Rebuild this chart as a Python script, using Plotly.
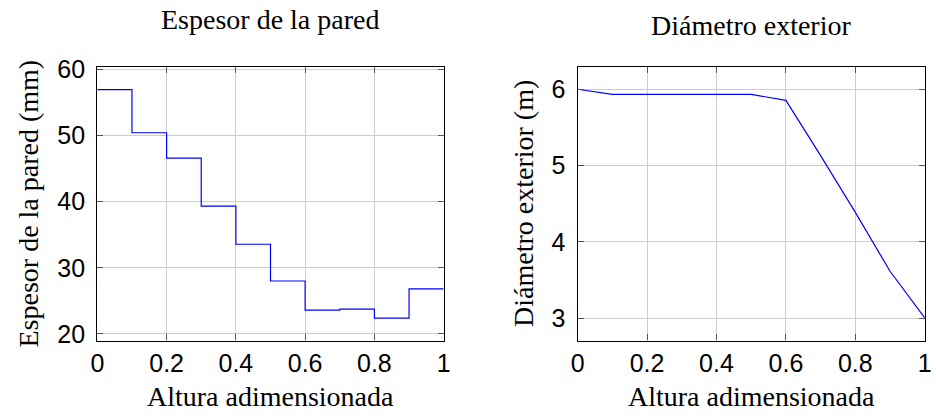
import plotly.graph_objects as go

# Altura adimensionada (0 = base, 1 = cima)
altura = [0.0, 0.1, 0.2, 0.3, 0.4, 0.5, 0.6, 0.7, 0.8, 0.9, 1.0]

# Espesor de la pared por tramo (mm); el último valor cierra el escalón en x = 1
espesor_mm = [56.9, 50.4, 46.55, 39.3, 33.55, 28.0, 23.6, 23.75, 22.4, 26.8, 26.8]

# Diámetro exterior (m)
diametro_m = [6.0, 5.933, 5.933, 5.933, 5.933, 5.933, 5.854, 5.13, 4.385, 3.613, 3.0]

x_ticks = [0, 0.2, 0.4, 0.6, 0.8, 1.0]
x_ticktext = ["0", "0.2", "0.4", "0.6", "0.8", "1"]
y1_ticks = [20, 30, 40, 50, 60]
y2_ticks = [3, 4, 5, 6]

W, H = 936, 416
SERIF = "Liberation Serif"
SANS = "Liberation Sans"
LINE = "rgb(0,0,255)"
GRID = "#cdcdcd"


def px_x(v):
    return v / W


def px_y(v):
    return 1 - v / H


fig = go.Figure()

fig.add_trace(go.Scatter(
    x=altura, y=espesor_mm, mode="lines", line=dict(color=LINE, width=1.2, shape="hv"),
    xaxis="x", yaxis="y", showlegend=False, hoverinfo="x+y",
))
fig.add_trace(go.Scatter(
    x=altura, y=diametro_m, mode="lines", line=dict(color=LINE, width=1.2),
    xaxis="x2", yaxis="y2", showlegend=False, hoverinfo="x+y",
))

common = dict(
    showline=True, linecolor="black", linewidth=1.3, mirror="ticks",
    ticks="inside", ticklen=6, tickcolor="#555555", tickwidth=1,
    showgrid=True, gridcolor=GRID, gridwidth=1, zeroline=False,
    tickfont=dict(family=SANS, size=25, color="black"),
)

dom_y = [px_y(344.3), px_y(57.3)]

fig.update_layout(
    width=W, height=H, autosize=False,
    margin=dict(l=0, r=0, t=0, b=0),
    paper_bgcolor="white", plot_bgcolor="white",
    xaxis=dict(domain=[px_x(91.7), px_x(443.3)], range=[0, 1], tickvals=x_ticks,
               ticktext=x_ticktext, anchor="y", ticklabelstandoff=0, **common),
    yaxis=dict(domain=dom_y, range=[19.0, 60.38], tickvals=y1_ticks, anchor="x",
               ticklabelstandoff=6, **common),
    xaxis2=dict(domain=[px_x(579.3), px_x(931.7)], range=[0, 1], tickvals=x_ticks,
                ticktext=x_ticktext, anchor="y2", ticklabelstandoff=0, **common),
    yaxis2=dict(domain=dom_y, range=[2.704, 6.296], tickvals=y2_ticks, anchor="x2",
                ticklabelstandoff=6, **common),
)

label_font = dict(family=SERIF, size=28, color="black")


def note(text, x, y, angle=0):
    fig.add_annotation(
        text=text, x=px_x(x), y=px_y(y), xref="paper", yref="paper",
        xanchor="center", yanchor="middle", showarrow=False,
        textangle=angle, font=label_font,
    )


note("Espesor de la pared", 267, 8)
note("Diámetro exterior", 755, 14)
note("Altura adimensionada", 267.5, 403)
note("Altura adimensionada", 755.5, 403)
note("Espesor de la pared (mm)", 22, 201, -90)
note("Diámetro exterior (m)", 525, 201, -90)

fig.write_html("out.html")
